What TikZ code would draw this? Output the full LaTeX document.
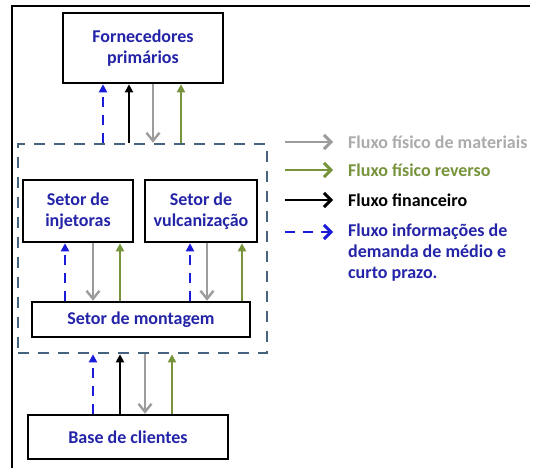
\documentclass[tikz,border=0pt]{standalone}
\usepackage{fontspec}
\setmainfont{Carlito}
\usetikzlibrary{positioning, arrows.meta}
\usepackage{xcolor}
\definecolor{FluxoAzul}{HTML}{1A1AD9}
\definecolor{TextoAzul}{HTML}{2424A8}
\definecolor{FluxoCinza}{HTML}{9C9C9C}
\definecolor{FluxoVerde}{HTML}{77933C}
\definecolor{SetorBorda}{HTML}{46637E}

\begin{document}
\begin{tikzpicture}[x=1pt, y=-1pt,
                setor/.style={draw=black, line width=2.6pt, fill=white, text=TextoAzul, align=center, inner sep=0pt, font=\bfseries\fontsize{18}{21}\selectfont},
                fabrica/.style={draw=SetorBorda, line width=2.6pt, dash pattern=on 11pt off 9pt, minimum width=249pt, minimum height=209pt, inner sep=0pt},
                fisico/.style={-{Straight Barb[length=8pt, width=13pt, line width=2.4pt]}, FluxoCinza, line width=2.4pt},
                reverso/.style={-{Triangle[length=8pt, width=8pt]}, FluxoVerde, line width=2.2pt},
                financ/.style={-{Triangle[length=8pt, width=8pt]}, black, line width=2pt},
                info/.style={-{Triangle[length=8pt, width=8pt]}, FluxoAzul, line width=2.6pt, dash pattern=on 10pt off 8pt},
                legseta/.style={-{Straight Barb[length=7pt, width=14pt, line width=3pt]}, line width=2.6pt, shorten >=15pt},
                legenda/.style={anchor=base west, align=left, inner sep=0pt, font=\bfseries\fontsize{18}{21}\selectfont}
            ]
                \useasboundingbox (0,0) rectangle (535,468);
                \draw[line width=2.4pt] (530,6) -- (12,6) -- (12,468);

                % Fornecedores
                \node[setor, minimum width=160pt, minimum height=70pt] (forn) at (143,48) {Fornecedores\\primários};

                % Fabrica
                \node[fabrica] (fab) at (142.5,248.5) {};
                \node[setor, minimum width=110pt, minimum height=62pt] (inj) at (78,211) {Setor de\\injetoras};
                \node[setor, minimum width=112pt, minimum height=62pt] (vulc) at (201,211) {Setor de\\vulcanização};
                \node[setor, minimum width=218pt, minimum height=35pt] (mont) at (141,319.5) {Setor de montagem};

                % Clientes
                \node[setor, minimum width=200pt, minimum height=44pt] (base) at (128,437) {Base de clientes};

                % Fluxos fabrica - fornecedores
                \draw[info] (fab.north -| 103,0) -- (forn.south -| 103,0);
                \draw[financ] (fab.north -| 129,0) -- (forn.south -| 129,0);
                \draw[fisico] (forn.south -| 153,0) -- (fab.north -| 153,0);
                \draw[reverso] (fab.north -| 181,0) -- (forn.south -| 181,0);

                % Fluxos internos
                \draw[info] (mont.north -| 65,0) -- (inj.south -| 65,0);
                \draw[fisico] (inj.south -| 93,0) -- (mont.north -| 93,0);
                \draw[reverso] (mont.north -| 120,0) -- (inj.south -| 120,0);
                \draw[info] (mont.north -| 190,0) -- (vulc.south -| 190,0);
                \draw[fisico] (vulc.south -| 207,0) -- (mont.north -| 207,0);
                \draw[reverso] (mont.north -| 242,0) -- (vulc.south -| 242,0);

                % Fluxos clientes - fabrica
                \draw[info] (base.north -| 93,0) -- (fab.south -| 93,0);
                \draw[financ] (base.north -| 120,0) -- (fab.south -| 120,0);
                \draw[fisico] (fab.south -| 145,0) -- (base.north -| 145,0);
                \draw[reverso] (base.north -| 172,0) -- (fab.south -| 172,0);

                % Legenda
                \foreach \estilo/\cor/\y/\txt [count=\i] in {fisico/FluxoCinza!85/142/Fluxo físico de materiais, reverso/FluxoVerde/170/Fluxo físico reverso, financ/black/200/Fluxo financeiro} {
                    \node[legenda, text=\cor] (leg\i) at (348,\y+6) {\txt};
                    \coordinate (s\i) at (285,\y);
                    \draw[\estilo, legseta] (s\i) -- (s\i -| leg\i.west);
                }
                \node[legenda, anchor=north west, text=TextoAzul] (leg4) at (348,224) {Fluxo informações de\\demanda de médio e\\curto prazo.};
                \coordinate (s4) at (285,232);
                \draw[info, legseta] (s4) -- (s4 -| leg4.west);
            \end{tikzpicture}
\end{document}
